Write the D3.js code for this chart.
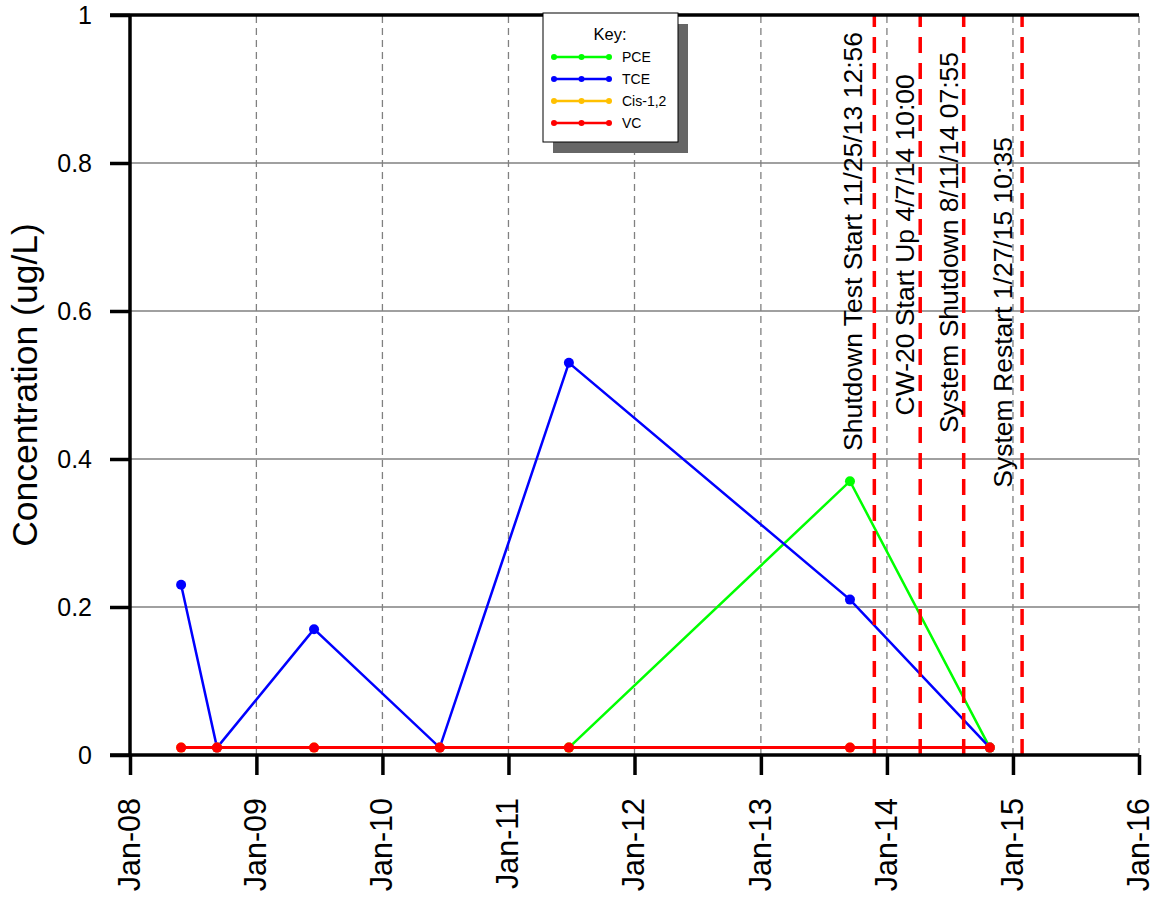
<!DOCTYPE html>
<html>
<head>
<meta charset="utf-8">
<script src="https://cdn.jsdelivr.net/npm/d3@7"></script>
<style>
  body { margin: 0; background: #fff; }
  text { font-family: "Liberation Sans", Arial, sans-serif; }
</style>
</head>
<body>
<svg width="1154" height="900"></svg>
<script>
// sample dates and concentrations (ug/L)
const sampleDates = ["2008-05-28", "2008-09-09", "2009-06-17", "2010-06-16", "2011-06-25", "2013-09-16", "2014-10-26"];
const pceDates = ["2011-06-25", "2013-09-16", "2014-10-26"];
const pceValues = [0.01, 0.37, 0.01];
const tceValues = [0.23, 0.01, 0.17, 0.01, 0.53, 0.21, 0.01];
const cisValues = [0.01, 0.01, 0.01, 0.01, 0.01, 0.01, 0.01];
const vcValues = [0.01, 0.01, 0.01, 0.01, 0.01, 0.01, 0.01];

const eventDates = ["2013-11-25T12:56", "2014-04-07T10:00", "2014-08-11T07:55", "2015-01-27T10:35"];
const eventLabels = ["Shutdown Test Start 11/25/13 12:56", "CW-20 Start Up 4/7/14 10:00", "System Shutdown 8/11/14 07:55", "System Restart 1/27/15 10:35"];

const yTicks = [0, 0.2, 0.4, 0.6, 0.8, 1];

const parse = (s) => new Date(s);

const series = [
  { name: "PCE", color: "#00ff00", dates: pceDates, values: pceValues },
  { name: "TCE", color: "#0000ff", dates: sampleDates, values: tceValues },
  { name: "Cis-1,2", color: "#ffc000", dates: sampleDates, values: cisValues },
  { name: "VC", color: "#ff0000", dates: sampleDates, values: vcValues }
];

const margin = { left: 130, right: 15, top: 15, bottom: 145 };
const width = 1154, height = 900;

// where each event label ends (top) and how far left of its line it sits
const labelTop = [0.977, 0.92, 0.95, 0.835];
const labelGap = [12, 6, 6, 10];

const x = d3.scaleTime()
  .domain([new Date(2008, 0, 1), new Date(2016, 0, 1)])
  .range([margin.left, width - margin.right]);
const y = d3.scaleLinear()
  .domain([0, 1])
  .range([height - margin.bottom, margin.top]);

const svg = d3.select("svg");

// gridlines
const yearTicks = x.ticks(d3.timeYear.every(1));
svg.append("g")
  .selectAll("line")
  .data(yearTicks.slice(1))
  .join("line")
  .attr("x1", d => x(d)).attr("x2", d => x(d))
  .attr("y1", y(0)).attr("y2", y(1))
  .attr("stroke", "#808080")
  .attr("stroke-width", 1.3)
  .attr("stroke-dasharray", "7,5");

svg.append("g")
  .selectAll("line")
  .data(yTicks.slice(1, -1))
  .join("line")
  .attr("x1", x.range()[0]).attr("x2", x.range()[1])
  .attr("y1", d => y(d)).attr("y2", d => y(d))
  .attr("stroke", "#808080")
  .attr("stroke-width", 1.3);

// data lines
const line = d3.line()
  .x(d => x(d.date))
  .y(d => y(d.value));

series.forEach(s => {
  const pts = s.dates.map((d, i) => ({ date: parse(d), value: s.values[i] }));
  const g = svg.append("g");
  g.append("path")
    .datum(pts)
    .attr("fill", "none")
    .attr("stroke", s.color)
    .attr("stroke-width", s.name === "VC" ? 3 : 2.5)
    .attr("d", line);
  g.selectAll("circle")
    .data(pts)
    .join("circle")
    .attr("cx", d => x(d.date))
    .attr("cy", d => y(d.value))
    .attr("r", 5)
    .attr("fill", s.color);
});

// event lines
svg.append("g")
  .selectAll("line")
  .data(eventDates)
  .join("line")
  .attr("x1", d => x(parse(d))).attr("x2", d => x(parse(d)))
  .attr("y1", y(0)).attr("y2", y(1))
  .attr("stroke", "#ff0000")
  .attr("stroke-width", 3.5)
  .attr("stroke-dasharray", "16,10");

svg.append("g")
  .selectAll("text")
  .data(eventLabels)
  .join("text")
  .attr("transform", (d, i) => `translate(${x(parse(eventDates[i])) - labelGap[i]},${y(labelTop[i])}) rotate(-90)`)
  .attr("text-anchor", "end")
  .attr("font-size", 26.5)
  .attr("fill", "#000")
  .text(d => d);

// axes
const xAxis = svg.append("g")
  .attr("transform", `translate(0,${y(0)})`)
  .call(d3.axisBottom(x).ticks(d3.timeYear.every(1)).tickFormat(d3.timeFormat("%b-%y")).tickSize(20).tickSizeOuter(0));
xAxis.select(".domain").remove();
xAxis.selectAll(".tick line").attr("stroke", "#000").attr("stroke-width", 3.5);
xAxis.selectAll(".tick text")
  .attr("font-size", 30.5)
  .attr("fill", "#000")
  .attr("text-anchor", "end")
  .attr("dy", "0.3em")
  .attr("x", 0)
  .attr("y", 0)
  .attr("transform", "translate(0,43) rotate(-90)");

const yAxis = svg.append("g")
  .attr("transform", `translate(${x.range()[0]},0)`)
  .call(d3.axisLeft(y).tickValues(yTicks).tickFormat(d3.format("")).tickSize(20).tickSizeOuter(0));
yAxis.select(".domain").remove();
yAxis.selectAll(".tick line").attr("stroke", "#000").attr("stroke-width", 3.5);
yAxis.selectAll(".tick text").attr("font-size", 25).attr("fill", "#000").attr("x", -38);

// frame lines
svg.append("line")
  .attr("x1", x.range()[0] - 20).attr("x2", x.range()[1])
  .attr("y1", y(1)).attr("y2", y(1))
  .attr("stroke", "#000").attr("stroke-width", 3.5);
svg.append("line")
  .attr("x1", x.range()[0] - 20).attr("x2", x.range()[1])
  .attr("y1", y(0)).attr("y2", y(0))
  .attr("stroke", "#000").attr("stroke-width", 3.5);
svg.append("line")
  .attr("x1", x.range()[0]).attr("x2", x.range()[0])
  .attr("y1", y(1)).attr("y2", y(0))
  .attr("stroke", "#000").attr("stroke-width", 3.5);

svg.append("text")
  .attr("transform", `translate(37,${(y(0) + y(1)) / 2}) rotate(-90)`)
  .attr("text-anchor", "middle")
  .attr("font-size", 35.5)
  .text("Concentration (ug/L)");

// legend
const lg = svg.append("g").attr("transform", "translate(543,13)");
lg.append("rect").attr("x", 10).attr("y", 11).attr("width", 135).attr("height", 129).attr("fill", "#666");
lg.append("rect").attr("width", 135).attr("height", 129).attr("fill", "#fff").attr("stroke", "#000").attr("stroke-width", 1);
lg.append("text").attr("x", 67).attr("y", 27).attr("text-anchor", "middle").attr("font-size", 16.5).text("Key:");
const rows = lg.selectAll(".row")
  .data(series)
  .join("g")
  .attr("transform", (d, i) => `translate(0,${44 + i * 22})`);
rows.append("line").attr("x1", 11).attr("x2", 66).attr("stroke", d => d.color).attr("stroke-width", 2.5);
rows.selectAll("circle").data(d => [11, 38.5, 66].map(cx => ({ cx, color: d.color })))
  .join("circle").attr("cx", d => d.cx).attr("r", 3).attr("fill", d => d.color);
rows.append("text").attr("x", 79).attr("dy", "0.36em").attr("font-size", 14).text(d => d.name);
</script>
</body>
</html>
